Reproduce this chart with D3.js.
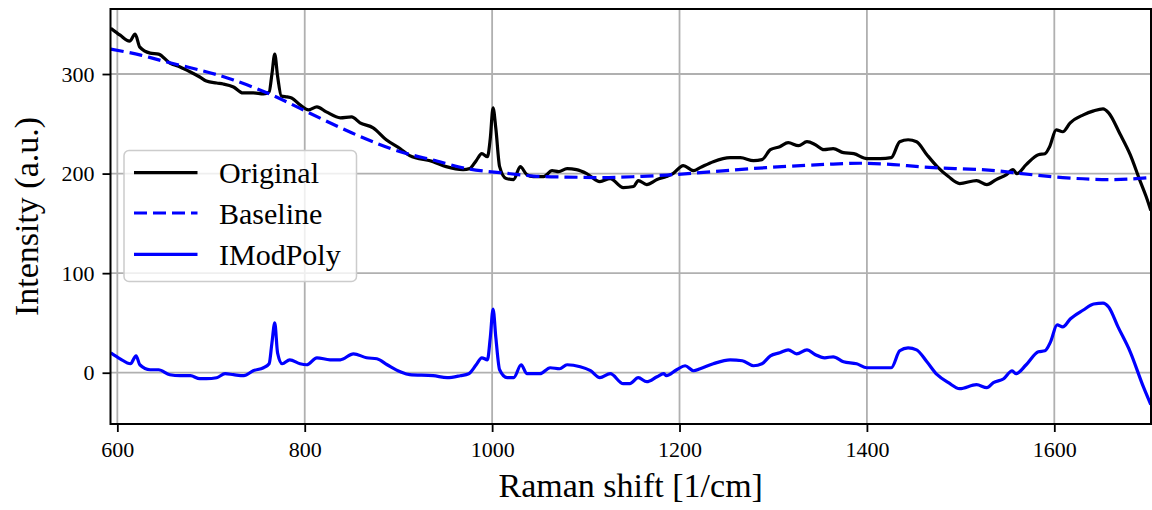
<!DOCTYPE html>
<html>
<head>
<meta charset="utf-8">
<script src="https://cdn.jsdelivr.net/npm/d3@7"></script>
<style>
  html, body { margin: 0; padding: 0; background: #fff; }
  svg { display: block; }
  text { font-family: "Liberation Serif", "Times New Roman", serif; fill: #000; }
</style>
</head>
<body>
<svg id="chart" width="1152" height="510"></svg>
<script>
// Raman spectrum: raw signal, fitted polynomial baseline and IModPoly-corrected signal
const origShift = [593,603,613,619,624,635,644,656,667,678,688,695,706,713,724,734,745,756,762,765,768,771,775,781,786,795,804,813,823,838,850,859,873,887,902,912,937,951,969,976,983,989,995,998,1001,1004,1008,1015,1023,1030,1037,1044,1055,1064,1071,1080,1090,1101,1115,1126,1140,1151,1156,1165,1176,1186,1193,1204,1215,1222,1236,1254,1265,1279,1288,1297,1307,1316,1327,1336,1345,1354,1364,1375,1386,1400,1414,1426,1435,1444,1453,1464,1475,1487,1499,1517,1528,1538,1549,1556,1560,1570,1583,1590,1595,1602,1609,1617,1631,1642,1652,1658,1670,1681,1691,1698,1703];
const origIntensity = [346,339,333,340,327,321,320,311,307,302,297,293,291,290,287,281,281,280,282,300,320,298,278,277,276,269,264,267,262,256,257,251,246,234,225,218,212,207,204,205,213,220,217,235,266,245,207,195,194,207,199,197,197,203,202,205,204,200,192,195,186,187,193,189,194,197,200,208,203,206,212,216,216,213,214,224,227,231,228,232,229,224,225,221,220,215,215,216,232,234,232,219,207,197,190,193,189,194,199,204,200,209,219,220,227,244,242,251,259,263,265,261,240,219,194,177,163];

const baseShift = [593,625,653,690,724,760,795,850,902,937,973,1008,1044,1080,1115,1150,1186,1222,1293,1364,1400,1435,1471,1521,1556,1609,1662,1703];
const baseIntensity = [325,319,312,303.5,294,281,265.5,241,222,213.6,205,201,197.5,196.5,196,196.8,198.5,201,206,209.6,210.3,208.6,206,204,201,196,194,196];

const corrShift = [593,603,614,620,624,635,644,656,667,678,688,695,706,715,724,735,745,756,762,765,768,771,776,784,795,802,813,827,838,852,866,877,888,902,912,937,952,966,975,983,989,995,998,1001,1004,1008,1016,1023,1031,1037,1051,1062,1072,1080,1094,1105,1115,1126,1140,1147,1156,1165,1176,1183,1186,1197,1206,1215,1222,1236,1254,1267,1279,1288,1297,1307,1316,1325,1336,1345,1355,1364,1375,1389,1400,1414,1426,1435,1444,1453,1464,1475,1487,1499,1517,1528,1535,1546,1555,1559,1570,1583,1590,1596,1603,1609,1617,1631,1642,1652,1658,1668,1681,1695,1703];
const corrIntensity = [20,14,9,17,8,3,3,-2,-3,-3,-6,-6,-5,-1,-2,-3,2,5,9,30,50,20,9,13,9,8,15,13,13,19,15,14,8,1,-2,-3,-5,-3,-1,8,15,13,35,64,35,3,-5,-5,8,-1,-1,5,4,8,6,2,-5,-1,-11,-11,-5,-9,-4,-1,-3,3,7,2,4,9,13,12,7,9,17,20,23,19,23,18,15,16,11,9,5,5,5,22,25,23,11,-2,-10,-16,-12,-15,-10,-6,2,-1,8,21,22,31,48,46,54,63,69,70,66,46,21,-14,-32];

const xTicks = [600, 800, 1000, 1200, 1400, 1600];
const yTicks = [0, 100, 200, 300];
const legendLabels = ["Original", "Baseline", "IModPoly"];

const svg = d3.select("#chart");
const plot = { left: 110.5, right: 1151, top: 9, bottom: 424 };

const x = d3.scaleLinear().domain([592.7, 1703.2]).range([plot.left, plot.right]);
const y = d3.scaleLinear().domain([-51.5, 365.3]).range([plot.bottom, plot.top]);

svg.append("defs").append("clipPath").attr("id", "plotClip")
  .append("rect")
  .attr("x", plot.left).attr("y", plot.top)
  .attr("width", plot.right - plot.left).attr("height", plot.bottom - plot.top);

// grid
const grid = svg.append("g");
grid.selectAll("line.vx").data(xTicks).join("line")
  .attr("x1", d => x(d)).attr("x2", d => x(d))
  .attr("y1", plot.top).attr("y2", plot.bottom)
  .attr("stroke", "#b0b0b0").attr("stroke-width", 1.8);
grid.selectAll("line.hy").data(yTicks).join("line")
  .attr("y1", d => y(d)).attr("y2", d => y(d))
  .attr("x1", plot.left).attr("x2", plot.right)
  .attr("stroke", "#b0b0b0").attr("stroke-width", 1.8);

// series
const lines = svg.append("g").attr("clip-path", "url(#plotClip)");

lines.append("path")
  .datum(d3.zip(origShift, origIntensity))
  .attr("d", d3.line().x(d => x(d[0])).y(d => y(d[1])).curve(d3.curveMonotoneX))
  .attr("fill", "none").attr("stroke", "#000").attr("stroke-width", 3.2)
  .attr("stroke-linejoin", "round");

lines.append("path")
  .datum(d3.zip(baseShift, baseIntensity))
  .attr("d", d3.line().x(d => x(d[0])).y(d => y(d[1])).curve(d3.curveNatural))
  .attr("fill", "none").attr("stroke", "#0000ff").attr("stroke-width", 3.2)
  .attr("stroke-dasharray", "13,6");

lines.append("path")
  .datum(d3.zip(corrShift, corrIntensity))
  .attr("d", d3.line().x(d => x(d[0])).y(d => y(d[1])).curve(d3.curveMonotoneX))
  .attr("fill", "none").attr("stroke", "#0000ff").attr("stroke-width", 3.2)
  .attr("stroke-linejoin", "round");

// axes
const xAxis = svg.append("g").attr("transform", `translate(0,${plot.bottom})`)
  .call(d3.axisBottom(x).tickValues(xTicks).tickSize(8).tickPadding(9).tickFormat(d3.format("d")));
const yAxis = svg.append("g").attr("transform", `translate(${plot.left},0)`)
  .call(d3.axisLeft(y).tickValues(yTicks).tickSize(8).tickPadding(8).tickFormat(d3.format("d")));
[xAxis, yAxis].forEach(a => {
  a.select(".domain").remove();
  a.selectAll(".tick line").attr("stroke", "#000").attr("stroke-width", 1.8);
  a.selectAll(".tick text").style("font-family", '"Liberation Serif", serif').style("font-size", "22px");
});

// frame
svg.append("rect")
  .attr("x", plot.left).attr("y", plot.top)
  .attr("width", plot.right - plot.left).attr("height", plot.bottom - plot.top)
  .attr("fill", "none").attr("stroke", "#000").attr("stroke-width", 2);

// axis labels
svg.append("text")
  .attr("x", (plot.left + plot.right) / 2).attr("y", 497)
  .attr("text-anchor", "middle").style("font-size", "34px")
  .text("Raman shift [1/cm]");
svg.append("text")
  .attr("transform", `translate(38,${(plot.top + plot.bottom) / 2}) rotate(-90)`)
  .attr("text-anchor", "middle").style("font-size", "34px")
  .text("Intensity (a.u.)");

// legend
const legend = svg.append("g");
legend.append("rect")
  .attr("x", 124).attr("y", 150.5).attr("width", 232.5).attr("height", 131)
  .attr("rx", 5).attr("fill", "#fff").attr("fill-opacity", 0.8)
  .attr("stroke", "#cccccc").attr("stroke-width", 1.5);
const legendStyles = [
  { color: "#000", dash: null },
  { color: "#0000ff", dash: "13,6" },
  { color: "#0000ff", dash: null }
];
const rowY = [172.7, 213, 254.3];
legendLabels.forEach((lab, i) => {
  legend.append("line")
    .attr("x1", 134).attr("x2", 197.5).attr("y1", rowY[i]).attr("y2", rowY[i])
    .attr("stroke", legendStyles[i].color).attr("stroke-width", 3.2)
    .attr("stroke-dasharray", legendStyles[i].dash);
  legend.append("text")
    .attr("x", 219).attr("y", rowY[i]).attr("dy", "0.35em")
    .style("font-size", "30px").text(lab);
});
</script>
</body>
</html>
